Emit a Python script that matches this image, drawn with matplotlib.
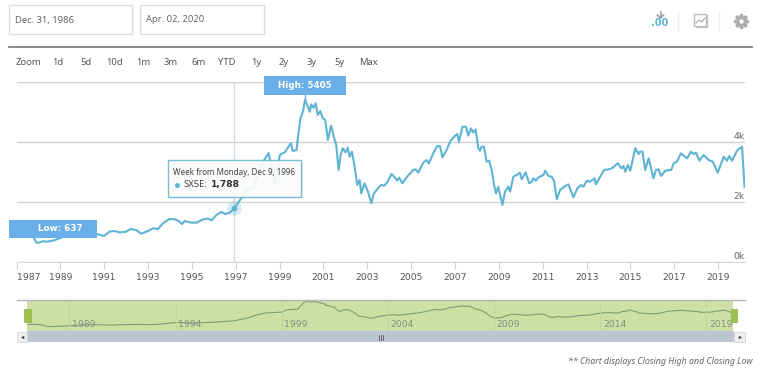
import matplotlib.pyplot as plt
import matplotlib.patches as mpatches
import pandas as pd

plt.rcParams['font.family'] = ['Noto Sans', 'DejaVu Sans']

# closing level, by fractional year
years = [1987.0, 1987.3, 1987.6, 1987.8, 1987.9, 1988.0, 1988.2, 1988.4, 1988.7, 1989.0, 1989.5, 1990.0, 1990.5,
         1990.71, 1990.99, 1991.24, 1991.47, 1991.7, 1991.96, 1992.2, 1992.46, 1992.69, 1993.0, 1993.22, 1993.45,
         1993.68, 1993.98, 1994.21, 1994.37, 1994.55, 1994.67, 1994.97, 1995.2, 1995.51, 1995.73, 1995.89, 1996.12,
         1996.34, 1996.53, 1996.72, 1996.94,
         1997.26, 1997.5, 1997.78, 1998.23, 1998.5, 1998.78, 1999.01, 1999.24, 1999.51, 1999.6, 1999.77,
         1999.83, 1999.95, 2000.06, 2000.16, 2000.29, 2000.38, 2000.44, 2000.55, 2000.64, 2000.74, 2000.85, 2000.97,
         2001.08, 2001.2, 2001.35, 2001.47, 2001.58, 2001.69, 2001.78, 2001.88, 2002.01, 2002.11, 2002.19, 2002.3,
         2002.42, 2002.54, 2002.65, 2002.72, 2002.87, 2003.03, 2003.18, 2003.3, 2003.48, 2003.63, 2003.76,
         2003.9, 2004.1, 2004.25, 2004.36, 2004.45, 2004.6, 2004.79, 2005.09, 2005.2, 2005.32, 2005.55, 2005.7,
         2005.81, 2006.0, 2006.19, 2006.31, 2006.43, 2006.61, 2006.8, 2006.99, 2007.1, 2007.18, 2007.34, 2007.5,
         2007.6, 2007.73, 2007.83, 2007.94, 2008.06, 2008.14, 2008.21, 2008.32, 2008.44, 2008.56, 2008.67, 2008.78,
         2008.87, 2008.97, 2009.16,
         2009.28, 2009.43, 2009.51, 2009.66, 2009.81, 2009.96, 2010.04, 2010.22, 2010.38, 2010.5, 2010.57, 2010.68,
         2010.8, 2011.03, 2011.11, 2011.26, 2011.41, 2011.52, 2011.64, 2011.79, 2011.99, 2012.17, 2012.4, 2012.58,
         2012.75, 2012.86, 2013.01, 2013.16, 2013.36, 2013.42, 2013.62, 2013.8, 2014.0, 2014.15, 2014.42, 2014.58,
         2014.68,
         2014.76, 2014.88, 2014.99, 2015.22, 2015.37, 2015.44, 2015.55, 2015.67, 2015.83, 2016.05, 2016.16, 2016.28,
         2016.4, 2016.59, 2016.86, 2016.97, 2017.12, 2017.3, 2017.58, 2017.76, 2017.88, 2017.99, 2018.14, 2018.34,
         2018.56, 2018.75, 2018.98, 2019.25, 2019.4, 2019.51, 2019.63, 2019.86, 2020.09, 2020.2]
closes = [950, 1080, 1150, 800, 650, 640, 690, 680, 720, 800, 920, 1050, 1000,
          922, 867, 1011, 1034, 989, 1000, 1100, 1067, 945, 1034, 1122, 1100,
          1289, 1434, 1423, 1378, 1267, 1367, 1311, 1311, 1422, 1445, 1389, 1567,
          1667, 1600, 1645, 1788,
          2140, 2400, 2450, 3333, 3630, 2570, 3570, 3660, 3960, 3700, 3730,
          4123, 4789, 5011, 5405, 5178, 5011, 5256, 5145, 5289, 4900, 5034, 4789,
          4734, 4067, 4545, 4178, 3900, 3067, 3567, 3789, 3656, 3811, 3511, 3678,
          3178, 2567, 2734, 2289, 2623, 2345, 1956, 2289, 2456, 2567, 2545,
          2644, 2933, 2822, 2711, 2811, 2622, 2822, 3067, 3089, 2978, 3311, 3400,
          3289, 3622, 3867, 3867, 3489, 3733, 4044, 4200, 4267, 4011, 4511, 4511,
          4211, 4456, 4311, 4422, 3789, 3711, 3844, 3844, 3344, 3378, 3067, 2567,
          2289, 2511, 1900,
          2345, 2511, 2345, 2845, 2900, 2978, 2756, 2989, 2623, 2678, 2789, 2711,
          2822, 2900, 3045, 2867, 2845, 2678, 2089, 2400, 2511, 2589, 2156, 2456,
          2567, 2511, 2711, 2678, 2789, 2589, 2845, 3067, 3089, 3123, 3289, 3123,
          3200,
          3011, 3233, 3045, 3789, 3600, 3678, 3678, 3067, 3456, 2789, 3067, 3089,
          2867, 3045, 3067, 3289, 3345, 3623, 3456, 3678, 3600, 3645, 3378, 3567,
          3400, 3345, 2978, 3511, 3378, 3534, 3378, 3711, 3845, 2511]

x_tick_years = list(range(1987, 2020, 2))
y_ticks = [0, 2000, 4000, 6000]
y_labels = ['0k', '2k', '4k', '']
nav_years = [1989, 1994, 1999, 2004, 2009, 2014, 2019]
range_buttons = ['Zoom', '1d', '5d', '10d', '1m', '3m', '6m', 'YTD', '1y', '2y', '3y', '5y', 'Max']
hover_year, hover_close = 1996.94, 1788

LINE = '#5fb3d3'
TICK_FONT = ['DejaVu Sans']
W, H = 773, 369


def px_axes(left, top, right, bottom):
    return fig.add_axes([left / W, 1 - bottom / H, (right - left) / W, (bottom - top) / H])


fig = plt.figure(figsize=(W / 100, H / 100), dpi=100, facecolor='white')

# main chart
ax = px_axes(16.5, 82, 744.5, 262)
ax.set_xlim(1987, 2020.2)
ax.set_ylim(0, 6000)
for s in ax.spines.values():
    s.set_visible(False)
ax.spines['bottom'].set_visible(True)
ax.spines['bottom'].set_color('#d8d8d8')
ax.set_yticks(y_ticks)
ax.set_yticklabels([])
ax.tick_params(axis='y', length=0)
ax.grid(axis='y', color='#d2d2d2', lw=1)
ax.set_axisbelow(True)
ax.set_xticks(x_tick_years)
ax.set_xticklabels([str(y) for y in x_tick_years], fontsize=6.7, color='#555555', family=TICK_FONT)
ax.get_xticklabels()[0].set_ha('left')
ax.tick_params(axis='x', length=5, color='#d0d0d0', pad=3)
ax.axvline(hover_year, color='#cfd8df', lw=1)
ax.plot(years, closes, color=LINE, lw=1.5)
ax.scatter([hover_year], [hover_close], s=110, color=LINE, alpha=0.25, lw=0, zorder=4)
ax.scatter([hover_year], [hover_close], s=18, color=LINE, lw=0, zorder=5)
for v, lab in zip(y_ticks, y_labels):
    ax.text(1, v + 30, lab, transform=ax.get_yaxis_transform(), ha='right', va='bottom',
            fontsize=6.7, color='#666666', family=TICK_FONT)

# navigator
nav = px_axes(27, 300, 733, 331)
nav.set_facecolor('#cfe0a6')
nav.set_xlim(1987, 2020.25)
nav.set_ylim(-150, 5500)
nav.set_xticks([])
nav.set_yticks([])
for s in nav.spines.values():
    s.set_visible(False)
nav_closes = pd.Series(closes).rolling(3, center=True, min_periods=1).mean()
nav.plot(years, nav_closes, color='#7f9f78', lw=0.8)
for y in nav_years:
    nav.axvline(y, color='#c3d69a', lw=0.8)
    nav.text(y + 0.68, 950, str(y), ha='center', va='center', fontsize=6.7, color='#858f80',
             family=TICK_FONT)

# page chrome, in pixel coordinates
ov = fig.add_axes([0, 0, 1, 1], zorder=10)
ov.set_xlim(0, W)
ov.set_ylim(H, 0)
ov.axis('off')
ov.patch.set_alpha(0)


def box(x0, y0, x1, y1, **kw):
    p = mpatches.Rectangle((x0, y0), x1 - x0, y1 - y0, **kw)
    ov.add_patch(p)
    return p


box(9, 5, 132, 34, fc='white', ec='#dcdcdc', lw=1)
box(140, 5, 264, 34, fc='white', ec='#dcdcdc', lw=1)
ov.text(15, 20, 'Dec. 31, 1986', fontsize=6.8, color='#666666', va='center')
ov.text(146, 20, 'Apr. 02, 2020', fontsize=6.8, color='#666666', va='center')
ov.plot([9, 752], [46.5, 46.5], color='#808080', lw=1.3)

btn_x = [29, 58, 86, 115, 143, 171, 199, 227, 256, 284, 312, 340, 368]
for x, lab in zip(btn_x, range_buttons):
    ov.text(x, 62.5, lab, fontsize=6.8, color='#555555', ha='center', va='center')

# toolbar icons
ov.text(660, 22.5, '.00', fontsize=7, color='#5fb3d3', ha='center', va='center', fontweight='bold',
        family=TICK_FONT)
ov.plot([660.5, 660.5], [12, 16], color='#999999', lw=1.2)
ov.plot([657.5, 660.5, 663.5], [15, 18, 15], color='#999999', lw=1.2)
ov.plot([677.5, 677.5], [12, 31], color='#eeeeee', lw=1)
box(696, 15, 707, 27, fc='white', ec='#c4c4c4', lw=1)
box(694, 14, 706, 26, fc='white', ec='#bcbcbc', lw=1)
ov.plot([696, 699, 702, 705], [23, 20, 22, 18], color='#b0b0b0', lw=0.9)
ov.plot([718.5, 718.5], [12, 31], color='#eeeeee', lw=1)
ov.plot([741], [20.5], marker=(8, 2, 0), ms=10.5, mew=2.4, color='#adadad')
ov.plot([741], [20.5], 'o', ms=7.5, color='#adadad', mew=0)
ov.plot([741], [20.5], 'o', ms=3.2, color='white', mew=0)

# high / low flags
box(264, 76, 346, 95, fc='#6aaee8', ec='none')
ov.text(305, 85.5, 'High: 5405', fontsize=6.3, fontweight='bold', color='white', ha='center', va='center',
        family=TICK_FONT)
ov.plot([305, 305], [95, 100], color='#6aaee8', lw=1)
box(9, 220, 97, 238, fc='#6aaee8', ec='none')
ov.text(60, 228.5, 'Low: 637', fontsize=6.3, fontweight='bold', color='white', ha='center', va='center',
        family=TICK_FONT)

# tooltip
box(170, 162, 303, 198, fc='#b0b0b0', ec='none', alpha=0.35)
box(168, 160, 301, 196.5, fc='white', ec='#68b4cf', lw=1, alpha=0.88)
ov.text(173, 172.5, 'Week from Monday, Dec 9, 1996', fontsize=5.8, color='#444444', va='center')
ov.plot([177], [185], 'o', ms=3.6, color=LINE, mew=0)
ov.text(183, 184.5, 'SX5E:', fontsize=6.8, color='#444444', va='center')
ov.text(210.5, 184.5, '1,788', fontsize=6.6, color='#333333', va='center', fontweight='bold',
        family=TICK_FONT)

# navigator trim and scrollbar
ov.plot([17, 745], [300, 300], color='#b5b5b5', lw=1)
box(27, 331, 734, 342, fc='#bec6d3', ec='none')
box(17, 332, 27, 342, fc='#efefef', ec='#d5d5d5', lw=0.6)
box(734, 332, 745, 342, fc='#efefef', ec='#d5d5d5', lw=0.6)
ov.plot([22], [337], '<', ms=2.5, color='#444444', mew=0)
ov.plot([739.5], [337], '>', ms=2.5, color='#444444', mew=0)
for x in [378.5, 380.5, 382.5]:
    ov.plot([x, x], [334.5, 339.5], color='#555555', lw=0.6)
box(24, 309, 30.5, 322, fc='#9dc04f', ec='#8fb244', lw=0.5)
box(730.5, 309, 736.5, 322, fc='#9dc04f', ec='#8fb244', lw=0.5)

ov.text(753, 361, '** Chart displays Closing High and Closing Low', fontsize=6.3, style='italic',
        color='#666666', ha='right', va='center')

fig.savefig('out.png', dpi=100)
